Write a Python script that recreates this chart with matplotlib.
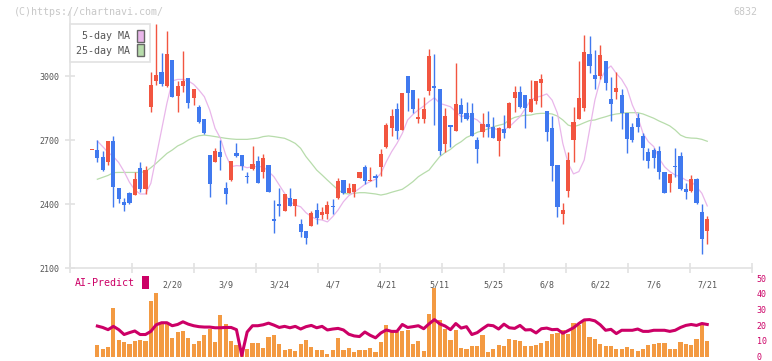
import numpy as np
import matplotlib
matplotlib.use("Agg")
import matplotlib.pyplot as plt
from matplotlib.patches import Patch

plt.rcParams['font.family'] = 'DejaVu Sans Mono'

# daily candles (open / high / low / close)
opens = [2652, 2653, 2620, 2598, 2695, 2473, 2409, 2452, 2442, 2567,
         2470, 2856, 2977, 3017, 2955, 3075, 2906, 2955, 2992, 2895,
         2853, 2798, 2630, 2598, 2644, 2477, 2512, 2637, 2630, 2531,
         2564, 2602, 2552, 2583, 2328, 2402, 2369, 2427, 2392, 2306,
         2275, 2298, 2370, 2348, 2353, 2389, 2430, 2512, 2453, 2458,
         2523, 2573, 2509, 2533, 2575, 2669, 2758, 2845, 2747, 3000,
         2934, 2798, 2798, 2931, 2953, 2939, 2681, 2770, 2744, 2864,
         2825, 2825, 2700, 2739, 2773, 2762, 2697, 2752, 2758, 2898,
         2925, 2911, 2833, 2884, 2969, 2836, 2758, 2583, 2355, 2462,
         2701, 2798, 2852, 3103, 3005, 3002, 3070, 2892, 2927, 2911,
         2825, 2761, 2802, 2719, 2645, 2653, 2648, 2548, 2497, 2580,
         2627, 2470, 2462, 2517, 2361, 2275]
highs = [2652, 2700, 2648, 2695, 2719, 2473, 2427, 2456, 2550, 2595,
         2578, 3017, 3244, 3106, 3211, 3075, 2977, 3119, 2992, 2939,
         2864, 2798, 2630, 2664, 2700, 2502, 2602, 2684, 2630, 2552,
         2672, 2625, 2634, 2583, 2419, 2473, 2447, 2473, 2423, 2330,
         2275, 2369, 2405, 2384, 2414, 2423, 2520, 2512, 2497, 2494,
         2550, 2581, 2575, 2541, 2656, 2781, 2845, 2872, 2920, 3000,
         2934, 2895, 2900, 3127, 3103, 2939, 2851, 2770, 3062, 2895,
         2880, 2875, 2712, 2828, 2837, 2809, 2762, 2817, 2880, 2953,
         2953, 2911, 2981, 2977, 3009, 2836, 2814, 2583, 2405, 2644,
         2853, 3070, 3192, 3187, 3122, 3145, 3070, 2997, 3020, 2939,
         2825, 2781, 2825, 2731, 2661, 2661, 2673, 2548, 2541, 2664,
         2645, 2497, 2536, 2523, 2400, 2344]
lows = [2652, 2598, 2556, 2583, 2387, 2403, 2369, 2402, 2442, 2458,
        2447, 2833, 2958, 2955, 2950, 2900, 2833, 2927, 2852, 2864,
        2778, 2728, 2434, 2595, 2559, 2398, 2508, 2622, 2559, 2497,
        2559, 2497, 2523, 2458, 2266, 2345, 2369, 2392, 2345, 2247,
        2211, 2298, 2305, 2330, 2330, 2353, 2423, 2445, 2450, 2434,
        2523, 2492, 2509, 2481, 2533, 2661, 2720, 2703, 2747, 2837,
        2825, 2781, 2781, 2911, 2770, 2630, 2645, 2666, 2744, 2786,
        2794, 2720, 2590, 2716, 2712, 2708, 2627, 2708, 2758, 2833,
        2848, 2758, 2833, 2869, 2853, 2697, 2509, 2341, 2306, 2434,
        2598, 2798, 2836, 3016, 2939, 2986, 2934, 2789, 2892, 2752,
        2641, 2692, 2736, 2606, 2570, 2570, 2517, 2450, 2458, 2528,
        2466, 2423, 2455, 2400, 2164, 2211]
closes = [2652, 2617, 2561, 2695, 2481, 2423, 2397, 2405, 2517, 2470,
          2559, 2958, 3005, 2962, 3103, 2903, 2953, 2977, 2875, 2939,
          2786, 2731, 2492, 2648, 2622, 2445, 2602, 2625, 2580, 2528,
          2587, 2500, 2614, 2458, 2322, 2392, 2447, 2392, 2423, 2270,
          2242, 2356, 2336, 2362, 2395, 2386, 2508, 2453, 2477, 2494,
          2550, 2508, 2511, 2523, 2634, 2770, 2812, 2744, 2920, 2922,
          2844, 2806, 2844, 3094, 2942, 2648, 2812, 2762, 2869, 2822,
          2798, 2720, 2656, 2775, 2759, 2708, 2755, 2731, 2873, 2925,
          2853, 2852, 2892, 2977, 2984, 2739, 2580, 2388, 2372, 2606,
          2783, 2897, 3111, 3048, 2987, 3098, 2969, 2867, 2944, 2825,
          2705, 2700, 2761, 2664, 2603, 2614, 2548, 2450, 2541, 2572,
          2470, 2458, 2517, 2403, 2234, 2330]

ma5 = [None, 2695, 2669, 2642, 2622, 2594, 2552, 2502, 2466, 2447,
       2447, 2497, 2622, 2747, 2872, 2977, 2984, 2984, 2977, 2961,
       2934, 2903, 2841, 2755, 2708, 2630, 2575, 2580, 2578, 2570,
       2575, 2575, 2575, 2552, 2528, 2489, 2450, 2411, 2395, 2387,
       2359, 2341, 2328, 2325, 2316, 2341, 2372, 2411, 2439, 2455,
       2473, 2492, 2505, 2516, 2544, 2598, 2645, 2684, 2731, 2794,
       2820, 2841, 2859, 2880, 2898, 2872, 2864, 2856, 2833, 2809,
       2817, 2805, 2794, 2770, 2762, 2755, 2747, 2747, 2762, 2786,
       2809, 2848, 2887, 2900, 2906, 2916, 2887, 2825, 2684, 2591,
       2541, 2552, 2606, 2747, 2887, 2981, 3028, 3047, 3012, 2984,
       2942, 2864, 2809, 2731, 2692, 2669, 2614, 2575, 2552, 2536,
       2528, 2512, 2505, 2481, 2450, 2391]
ma25 = [None, 2516, 2525, 2534, 2547, 2548, 2548, 2548, 2548, 2548,
        2552, 2570, 2591, 2614, 2637, 2653, 2672, 2684, 2700, 2712,
        2720, 2723, 2720, 2716, 2712, 2708, 2705, 2703, 2703, 2703,
        2706, 2709, 2716, 2719, 2716, 2712, 2708, 2697, 2684, 2661,
        2622, 2591, 2559, 2536, 2512, 2489, 2466, 2450, 2447, 2450,
        2453, 2453, 2450, 2447, 2442, 2447, 2455, 2462, 2469, 2486,
        2505, 2528, 2544, 2559, 2591, 2622, 2641, 2656, 2677, 2692,
        2712, 2723, 2736, 2744, 2752, 2762, 2769, 2775, 2794, 2806,
        2812, 2816, 2817, 2823, 2825, 2825, 2822, 2812, 2794, 2770,
        2762, 2770, 2781, 2791, 2794, 2802, 2809, 2817, 2822, 2825,
        2828, 2828, 2828, 2822, 2812, 2802, 2789, 2778, 2766, 2747,
        2723, 2712, 2709, 2708, 2703, 2694]

# lower panel (from the 2nd candle on)
volume = [7.5, 5, 6.25, 31, 10.6, 9.4, 8.1, 10, 10.6, 10,
          35.6, 40.6, 21, 21, 11.5, 15.6, 16.3, 11.9, 8.1, 10,
          13.75, 17.5, 9.4, 26.25, 20.6, 10, 7.5, 3, 5, 8.75,
          8.75, 5.6, 12.5, 13.75, 8.1, 4.4, 5, 3.75, 8.1, 10.6,
          6.25, 4.4, 4.4, 1.9, 4.4, 11.9, 4.4, 5.6, 3.1, 4.4,
          4.4, 5.6, 3.1, 9.4, 20, 16.25, 15.6, 16.25, 16.9, 8.1,
          10, 3.75, 26.9, 43.75, 23.1, 17.5, 10.6, 16.9, 5.6, 5,
          6.9, 6.9, 13.75, 3.1, 5, 7.5, 6.9, 11.25, 10.6, 10,
          6.9, 6.9, 7.5, 8.75, 10, 14.4, 15, 16.9, 14.4, 21.25,
          20, 22.5, 12.5, 11.25, 8.1, 6.9, 6.9, 5, 5, 6.25,
          5, 3.75, 5, 7.5, 8.1, 8.75, 8.75, 5, 5, 9.4,
          8.1, 7.5, 11.25, 20, 10]
ai_predict = [19.4, 18.5, 17.1, 19.2, 17.1, 14, 15.2, 16.25, 14, 14,
              16, 20.2, 21.5, 21.5, 19.6, 20.4, 22.1, 20.6, 19.6, 19,
              18.75, 18.75, 18.3, 18.3, 18.5, 18.5, 17.1, 0.6, 15.6, 19.6,
              19.6, 20.2, 21.25, 20, 18.5, 19.2, 18.3, 19.2, 17.5, 19,
              19.8, 18.3, 19.2, 16.9, 17.5, 17.9, 16.9, 14.2, 13.1, 12.7,
              15.6, 13.5, 11.9, 15, 16.9, 16, 16, 20.4, 18.5, 19,
              19.6, 17.7, 20.8, 23.5, 20.8, 19.4, 17.1, 21, 18.1, 19,
              14, 15.2, 17.7, 20, 19.6, 17.5, 20.6, 18.3, 17.9, 19.8,
              16.9, 17.1, 15, 17.7, 18.1, 17.1, 17.3, 14.8, 16.5, 18.3,
              21, 23.3, 23.5, 22.7, 20.2, 16.7, 17.3, 14.6, 16.7, 16.7,
              16.7, 17.5, 16, 16, 16.7, 16.7, 16.7, 16, 16.7, 18.5,
              19.8, 20.4, 19.8, 21, 20.4]

date_labels = ['2/20', '3/9', '3/24', '4/7', '4/21', '5/11',
               '5/25', '6/8', '6/22', '7/6', '7/21']
date_pos = [15, 25, 35, 45, 55, 65, 75, 85, 95, 105, 115]

RED, BLUE = '#f25540', '#4079ef'
PINK, GREEN = '#e9b6ea', '#b7dcab'
ORANGE, CRIMSON = '#f39a42', '#cc0066'
AXIS = '#e2e2e2'
TXT = '#555555'

W, H = 772, 361
fig = plt.figure(figsize=(W / 100, H / 100), dpi=100)


def px_axes(l, t, r, b):
    return fig.add_axes([l / W, 1 - b / H, (r - l) / W, (b - t) / H])


ax = px_axes(70, 12, 752, 268)
axv = px_axes(70, 278, 752, 356.5)
axv.patch.set_visible(False)

# x position 0 is the first candle at pixel 92, 5.35 px per day
x0, step = 92, 5.35
xlim = ((70 - x0) / step, (752 - x0) / step)

o, h, l, c = map(np.array, (opens, highs, lows, closes))
x = np.arange(len(o))
cols = np.where(c >= o, RED, BLUE)

ax.plot(x, np.array(ma25, dtype=float), color=GREEN, lw=0.9, zorder=1)
ax.plot(x, np.array(ma5, dtype=float), color=PINK, lw=0.9, zorder=1)
ax.vlines(x, l, h, colors=cols, lw=1.0, zorder=2)
ax.bar(x, np.maximum(np.abs(c - o), 4), 0.78, bottom=np.minimum(o, c),
       color=cols, lw=0, zorder=3)

ax.set_xlim(*xlim)
ax.set_ylim(2100, 3300)
for s in ('top', 'right'):
    ax.spines[s].set_visible(False)
for s in ('left', 'bottom'):
    ax.spines[s].set_color(AXIS)
    ax.spines[s].set_linewidth(1.2)
ax.set_yticks([2100, 2400, 2700, 3000])
ax.tick_params(axis='y', direction='inout', length=7, width=1.2, color=AXIS,
               labelsize=6, labelcolor=TXT, pad=4.4)
ax.set_xticks(np.linspace(xlim[0], xlim[1], 12))
ax.set_xticks(date_pos, minor=True)
ax.set_xticklabels([])
ax.set_xticklabels(date_labels, minor=True)
ax.tick_params(axis='x', which='major', direction='inout', length=7, width=1.2,
               color=AXIS)
ax.tick_params(axis='x', which='minor', length=0, labelsize=6,
               labelcolor=TXT, pad=9)

leg = ax.legend([Patch(facecolor=PINK, edgecolor='#666666', lw=1),
                 Patch(facecolor=GREEN, edgecolor='#666666', lw=1)],
                ['5-day MA', '25-day MA'], markerfirst=False,
                loc='upper left', bbox_to_anchor=(0, (268 - 24) / 256),
                borderaxespad=0, fontsize=7.2, fancybox=False, framealpha=1,
                edgecolor=AXIS, borderpad=0.6, handlelength=0.7,
                handleheight=1.5, handletextpad=0.7, labelspacing=0.2,
                labelcolor=TXT)
leg.get_frame().set_linewidth(1.2)

xv = x[1:]
axv.bar(xv, volume, 0.78, color=ORANGE, lw=0)
axv.plot(xv, ai_predict, color=CRIMSON, lw=2.2)
axv.set_xlim(*xlim)
axv.set_ylim(0, 50)
for s in axv.spines.values():
    s.set_visible(False)
axv.set_xticks([])
axv.yaxis.tick_right()
axv.set_yticks([0, 10, 20, 30, 40, 50])
axv.tick_params(axis='y', length=0, labelsize=6, labelcolor=CRIMSON, pad=3.4)
axv.legend([Patch(facecolor=CRIMSON, edgecolor='none')], ['AI-Predict'],
           markerfirst=False, frameon=False, loc='upper left',
           bbox_to_anchor=(75 / W, 1 - 276 / H), bbox_transform=fig.transFigure,
           borderpad=0, borderaxespad=0, fontsize=7.2, handlelength=0.7,
           handleheight=1.6, handletextpad=0.7, labelcolor=CRIMSON)

fig.text(14 / W, 1 - 12 / H, '(C)https://chartnavi.com/', fontsize=7.2,
         color='#c8c8c8', ha='left', va='center')
fig.text(757 / W, 1 - 12 / H, '6832', fontsize=7.2, color='#c8c8c8',
         ha='right', va='center')

fig.savefig('out.png', dpi=100)
